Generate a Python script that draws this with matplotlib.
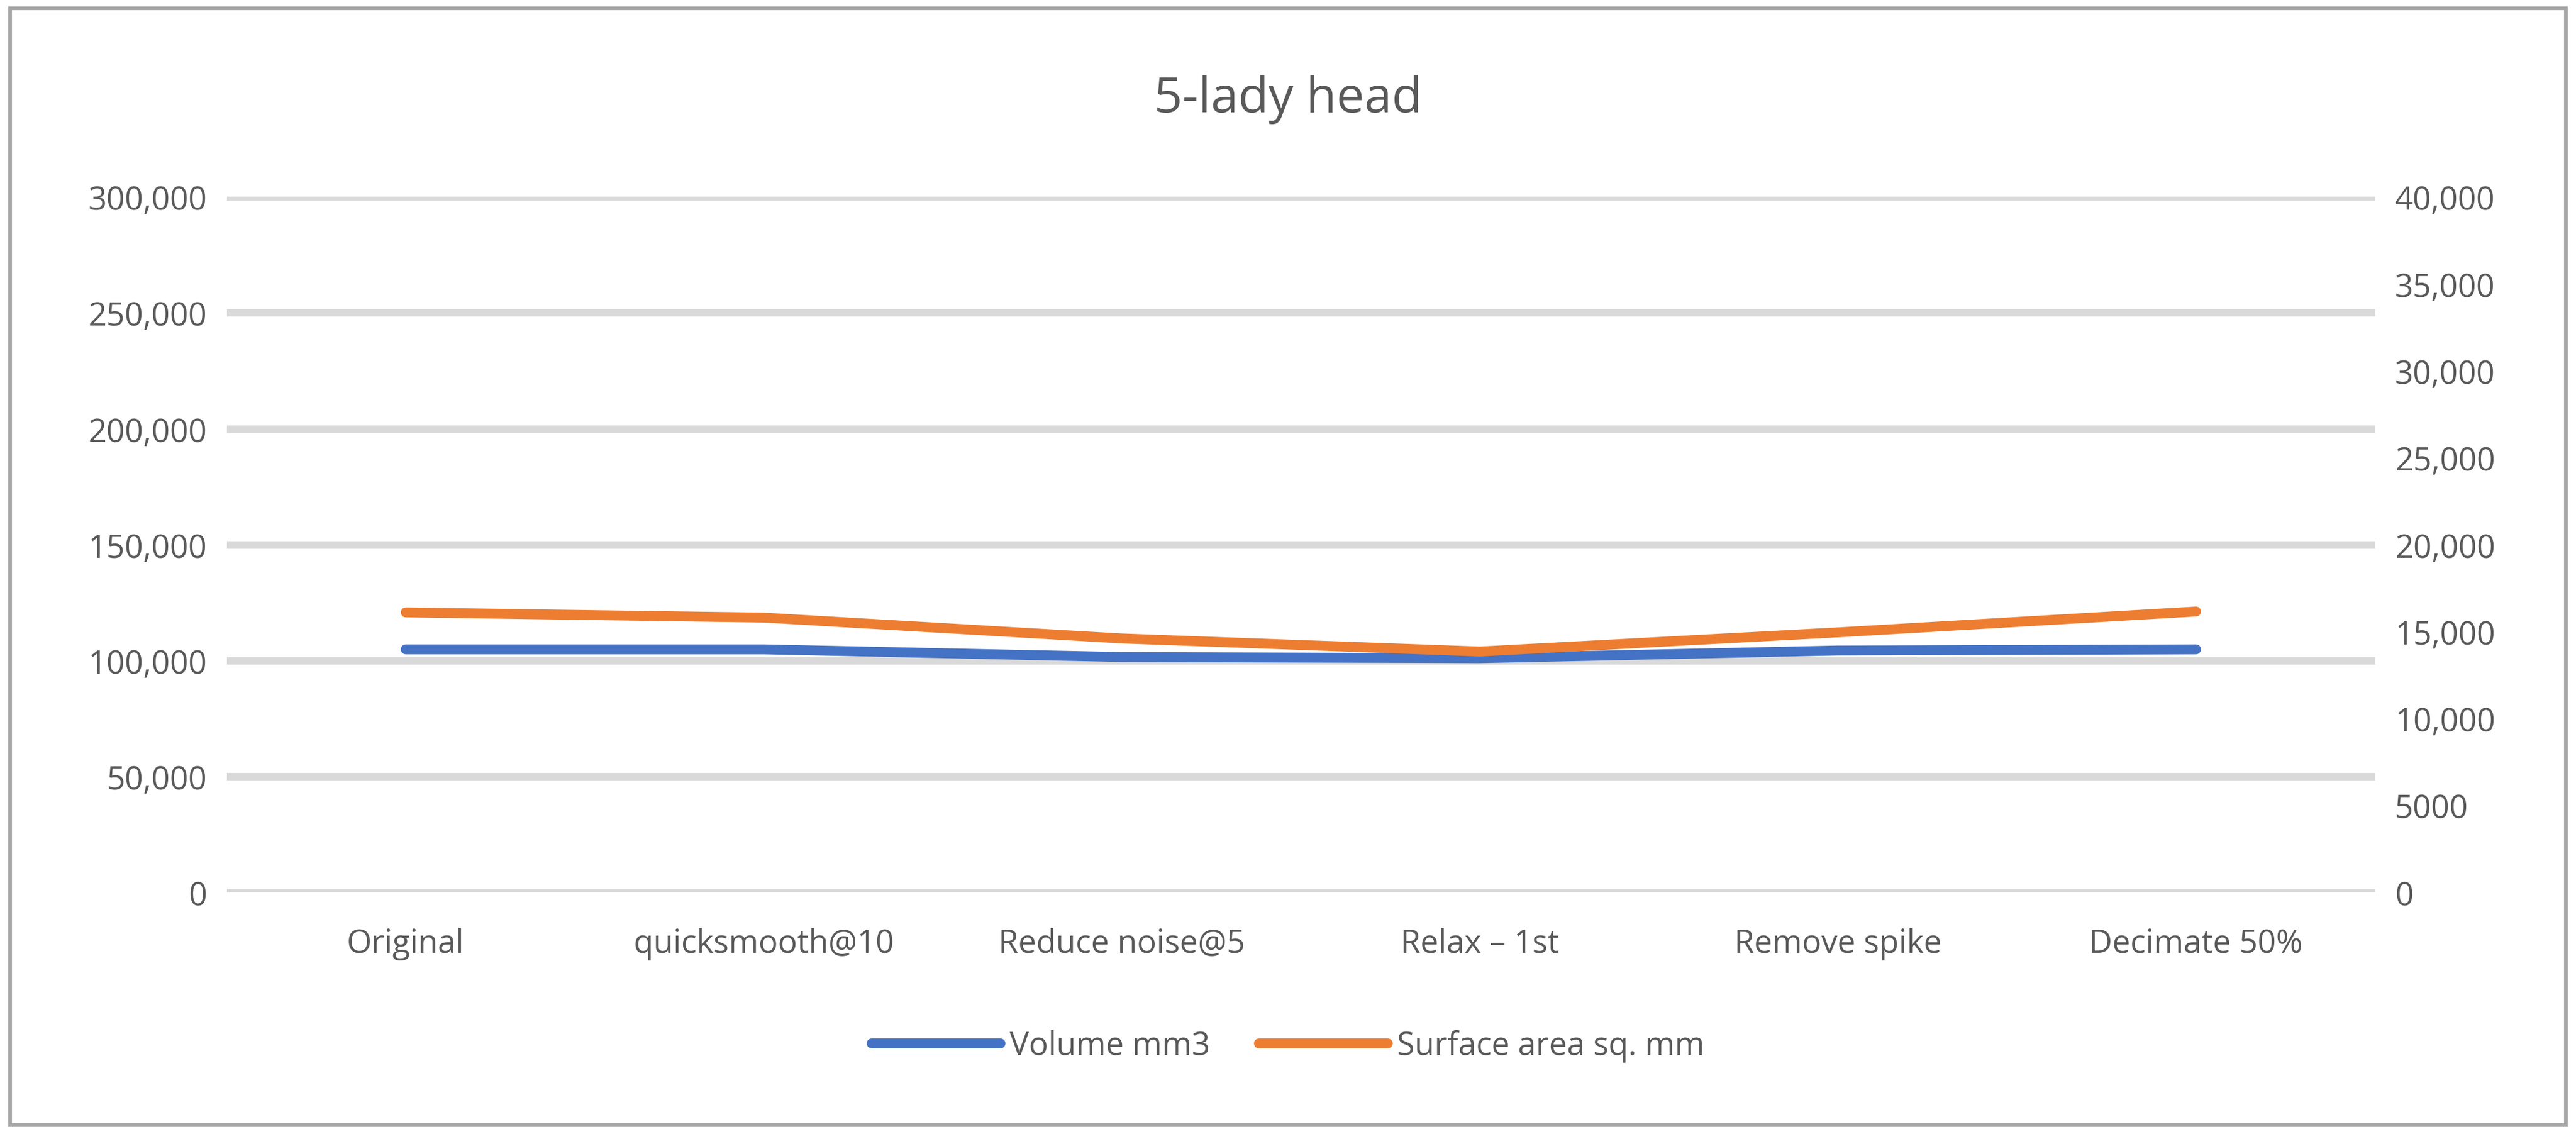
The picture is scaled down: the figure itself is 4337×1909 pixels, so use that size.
import matplotlib.pyplot as plt
from matplotlib.patches import Rectangle

categories = ["Original", "quicksmooth@10", "Reduce noise@5", "Relax \u2013 1st", "Remove spike", "Decimate 50%"]
volume = [104800, 104800, 101500, 101000, 104300, 104800]
surface = [16100, 15800, 14600, 13850, 14950, 16150]
left_ticks = [0, 50000, 100000, 150000, 200000, 250000, 300000]
right_ticks = [0, 5000, 10000, 15000, 20000, 25000, 30000, 35000, 40000]
right_labels = ["0", "5000", "10,000", "15,000", "20,000", "25,000", "30,000", "35,000", "40,000"]

plt.rcParams['font.family'] = ['Open Sans', 'DejaVu Sans']
txt = '#595959'
blue = '#4472C4'
orange = '#ED7D31'

fig = plt.figure(figsize=(4337 / 300, 1910 / 300), dpi=300)
fig.patches.append(Rectangle((0.004, 0.008), 0.992, 0.984, transform=fig.transFigure,
                             fill=False, edgecolor='#A6A6A6', linewidth=1.5))
ax = fig.add_axes([0.088, 0.213, 0.834, 0.613])
ax2 = ax.twinx()

x = range(len(categories))
ax.plot(x, volume, color=blue, linewidth=4, label='Volume mm3', solid_capstyle='round', zorder=3)
ax2.plot(x, surface, color=orange, linewidth=4, label='Surface area sq. mm', solid_capstyle='round')

ax.set_xlim(-0.5, len(categories) - 0.5)
ax.set_ylim(0, 300000)
ax2.set_ylim(0, 40000)
ax.set_yticks(left_ticks)
ax.set_yticklabels([f"{v:,}" for v in left_ticks])
ax2.set_yticks(right_ticks)
ax2.set_yticklabels(right_labels)
ax.set_xticks(list(x))
ax.set_xticklabels(categories)

ax.grid(axis='y', color='#D9D9D9', linewidth=3)
ax.set_axisbelow(True)
for a in (ax, ax2):
    for s in a.spines.values():
        s.set_visible(False)
    a.tick_params(length=0, labelsize=13, colors=txt, pad=8)
ax.tick_params(axis='x', pad=14)

fig.text(0.5, 0.912, "5-lady head", ha='center', va='center', fontsize=20, color=txt)

h1, l1 = ax.get_legend_handles_labels()
h2, l2 = ax2.get_legend_handles_labels()
fig.legend(h1 + h2, l1 + l2, loc='center', bbox_to_anchor=(0.5, 0.078), ncol=2, frameon=False,
           fontsize=13, labelcolor=txt, handlelength=4, columnspacing=1.5, handletextpad=0.3)

fig.savefig('out.png', dpi=300)
